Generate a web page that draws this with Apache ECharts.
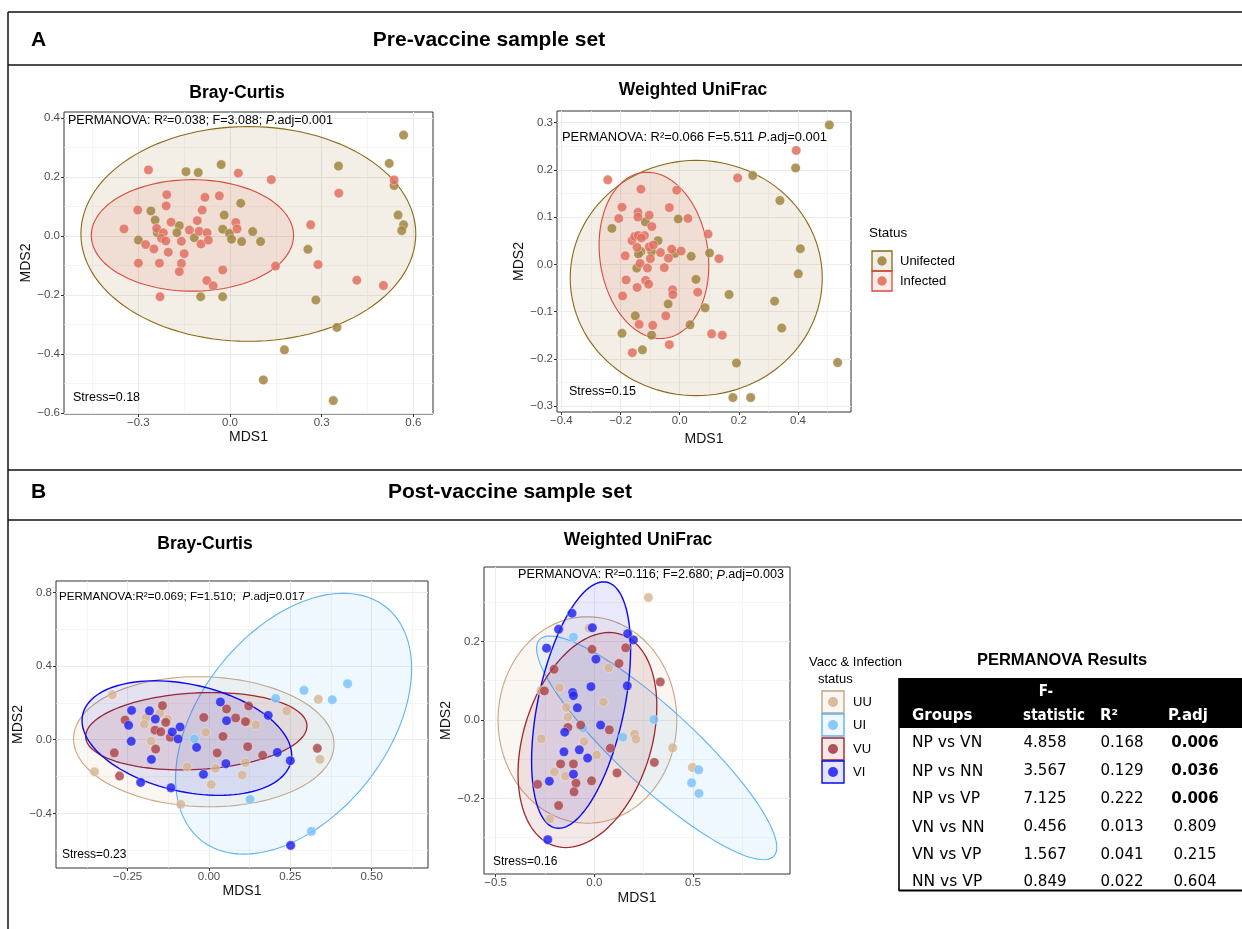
<!DOCTYPE html>
<html><head><meta charset="utf-8">
<script src="https://cdn.jsdelivr.net/npm/echarts@6/dist/echarts.min.js"></script>
<style>html,body{margin:0;padding:0;background:#fff}#c{width:1242px;height:929px}</style>
</head><body><div id="c"></div>
<script>
// ---------------- DATA ----------------
// Panel A-left: Pre-vaccine, Bray-Curtis  [MDS1, MDS2]
const preBC_unif = [[0.568,0.342],[0.521,0.246],[0.355,0.237],[-0.029,0.242],[-0.144,0.218],[-0.104,0.215],[0.537,0.171],[0.035,0.111],[-0.259,0.085],[-0.019,0.071],[-0.245,0.054],[0.550,0.071],[0.568,0.038],[0.562,0.018],[-0.166,0.035],[-0.238,0.011],[-0.174,0.011],[-0.117,-0.006],[-0.024,0.023],[-0.002,0.009],[0.005,-0.011],[0.038,-0.019],[0.074,0.015],[0.100,-0.019],[-0.300,-0.014],[0.255,-0.045],[-0.096,-0.206],[-0.024,-0.206],[0.281,-0.217],[0.350,-0.310],[0.178,-0.386],[0.109,-0.488],[0.338,-0.558]];
const preBC_inf = [[-0.267,0.224],[0.027,0.213],[0.135,0.191],[0.537,0.190],[0.356,0.145],[-0.207,0.140],[-0.082,0.131],[-0.035,0.136],[-0.209,0.102],[-0.302,0.088],[-0.091,0.088],[-0.107,0.052],[-0.193,0.047],[0.019,0.046],[0.023,0.024],[-0.347,0.024],[-0.240,0.026],[-0.218,0.011],[-0.133,0.020],[-0.101,0.016],[-0.075,0.011],[0.264,0.038],[-0.224,-0.008],[-0.210,-0.017],[-0.159,-0.018],[-0.095,-0.027],[-0.071,-0.014],[-0.276,-0.029],[-0.249,-0.044],[-0.202,-0.055],[-0.150,-0.060],[-0.300,-0.092],[-0.231,-0.092],[-0.159,-0.093],[-0.166,-0.121],[-0.024,-0.115],[0.149,-0.102],[0.288,-0.097],[0.415,-0.150],[0.502,-0.168],[-0.076,-0.151],[-0.055,-0.169],[-0.229,-0.206]];
// ellipses: [centre MDS1, centre MDS2, top-vector dx, top-vector dy, horizontal half-chord]
const preBC_ell_unif = [0.060,0.007,0,0.364,0.548];
const preBC_ell_inf  = [-0.123,0.002,0,0.189,0.331];

// Panel A-right: Pre-vaccine, Weighted UniFrac
const preWU_unif = [[0.506,0.295],[0.392,0.204],[0.247,0.188],[0.339,0.135],[-0.005,0.096],[-0.116,0.090],[-0.229,0.076],[-0.073,0.050],[0.408,0.033],[-0.131,0.027],[-0.095,0.027],[-0.139,0.022],[-0.016,0.023],[0.039,0.017],[0.101,0.024],[-0.145,-0.008],[0.401,-0.020],[0.055,-0.032],[0.167,-0.064],[0.321,-0.078],[-0.039,-0.084],[0.086,-0.092],[-0.150,-0.109],[0.035,-0.128],[0.345,-0.135],[-0.195,-0.146],[-0.095,-0.150],[-0.126,-0.181],[0.192,-0.209],[0.534,-0.208],[0.180,-0.282],[0.240,-0.282]];
const preWU_inf = [[0.394,0.241],[-0.243,0.179],[0.196,0.183],[-0.131,0.159],[-0.010,0.157],[-0.195,0.121],[-0.035,0.120],[-0.141,0.110],[-0.103,0.104],[-0.206,0.097],[-0.141,0.100],[0.028,0.097],[-0.094,0.080],[0.096,0.064],[-0.161,0.050],[-0.152,0.059],[-0.140,0.061],[-0.119,0.061],[-0.129,0.056],[-0.144,0.036],[-0.103,0.037],[-0.089,0.041],[-0.027,0.032],[0.005,0.028],[-0.065,0.025],[-0.184,0.018],[-0.038,0.013],[-0.099,0.012],[0.133,0.012],[-0.134,0.002],[-0.109,-0.008],[-0.052,-0.007],[-0.181,-0.033],[-0.115,-0.034],[-0.105,-0.042],[-0.144,-0.049],[-0.024,-0.054],[-0.023,-0.064],[0.061,-0.059],[-0.193,-0.067],[-0.047,-0.109],[-0.137,-0.127],[-0.091,-0.129],[0.108,-0.147],[0.144,-0.150],[-0.035,-0.170],[-0.160,-0.187]];
const preWU_ell_unif = [0.056,-0.029,0,0.249,0.426];
const preWU_ell_inf  = [-0.087,0.019,-0.0225,0.176,0.184];

// Panel B-left: Post-vaccine, Bray-Curtis
const postBC_UU = [[-0.297,0.244],[0.336,0.219],[0.239,0.157],[-0.194,0.119],[-0.151,0.143],[-0.128,0.112],[-0.199,0.083],[0.119,0.098],[0.144,0.081],[-0.010,0.040],[-0.178,-0.007],[0.341,-0.107],[0.112,-0.125],[-0.067,-0.147],[0.020,-0.156],[0.102,-0.192],[-0.352,-0.174],[0.007,-0.243],[-0.087,-0.351]];
const postBC_UI = [[0.426,0.304],[0.292,0.268],[0.379,0.217],[0.205,0.224],[-0.045,0.004],[0.126,-0.324],[0.315,-0.498]];
const postBC_VU = [[-0.143,0.185],[0.054,0.167],[0.122,0.183],[-0.258,0.107],[-0.133,0.094],[-0.016,0.121],[0.082,0.118],[0.112,0.098],[-0.166,0.052],[-0.148,0.043],[-0.119,0.013],[0.043,0.018],[0.119,-0.038],[-0.164,-0.051],[-0.291,-0.071],[0.025,-0.072],[0.165,-0.085],[0.333,-0.047],[-0.275,-0.197]];
const postBC_VI = [[0.035,0.205],[-0.238,0.159],[-0.183,0.157],[-0.165,0.112],[-0.247,0.078],[-0.089,0.069],[-0.113,0.042],[0.054,0.103],[0.182,0.132],[-0.095,0.004],[-0.239,-0.009],[-0.038,-0.042],[0.210,-0.069],[-0.177,-0.107],[0.052,-0.130],[0.250,-0.114],[-0.017,-0.188],[-0.210,-0.232],[-0.117,-0.261],[0.251,-0.574]];
const postBC_ell_UU = [-0.016,-0.011,-0.0175,0.353,0.400];
const postBC_ell_UI = [0.260,0.087,0.153,0.708,0.329];
const postBC_ell_VU = [-0.039,0.046,0.046,0.210,0.337];
const postBC_ell_VI = [-0.068,0.009,-0.098,0.311,0.307];

// Panel B-right: Post-vaccine, Weighted UniFrac
const postWU_UU = [[0.274,0.312],[-0.027,0.234],[0.073,0.133],[-0.177,0.082],[0.046,0.046],[-0.142,0.032],[-0.134,0.007],[0.204,-0.036],[0.211,-0.049],[-0.269,-0.048],[-0.052,-0.055],[0.012,-0.089],[0.397,-0.071],[0.497,-0.121],[-0.203,-0.132],[-0.147,-0.143],[-0.225,-0.252],[-0.270,0.075]];
const postWU_UI = [[-0.106,0.211],[0.302,0.001],[-0.056,-0.021],[0.144,-0.044],[0.529,-0.127],[0.493,-0.160],[0.530,-0.187]];
const postWU_VU = [[-0.012,0.180],[0.159,0.184],[-0.204,0.129],[0.125,0.144],[0.334,0.097],[-0.253,0.074],[-0.134,-0.019],[-0.069,-0.013],[0.076,-0.025],[0.081,-0.072],[-0.171,-0.112],[-0.106,-0.112],[0.304,-0.108],[0.115,-0.135],[-0.287,-0.164],[-0.093,-0.161],[-0.103,-0.183],[-0.014,-0.155],[-0.181,-0.218]];
const postWU_VI = [[-0.113,0.272],[-0.181,0.231],[-0.010,0.235],[-0.242,0.183],[0.008,0.155],[0.169,0.220],[0.198,0.204],[-0.017,0.085],[0.167,0.087],[-0.110,0.070],[-0.106,0.062],[-0.086,0.031],[0.032,-0.013],[-0.150,-0.031],[-0.076,-0.076],[-0.154,-0.081],[-0.034,-0.097],[-0.106,-0.138],[-0.228,-0.156],[-0.236,-0.305]];
const postWU_ell_UU = [-0.035,0.000,0,0.263,0.453];
const postWU_ell_UI = [0.316,-0.071,-0.541,0.285,0.279];
const postWU_ell_VU = [-0.035,-0.051,0.110,0.274,0.334];
const postWU_ell_VI = [-0.067,0.038,0.114,0.314,0.2235];

// Tick values
const preBC_xTicks = [-0.3,0,0.3,0.6],  preBC_xMinor = [-0.45,-0.15,0.15,0.45];
const preBC_yTicks = [-0.6,-0.4,-0.2,0,0.2,0.4], preBC_yMinor = [-0.5,-0.3,-0.1,0.1,0.3];
const preWU_xTicks = [-0.4,-0.2,0,0.2,0.4], preWU_xMinor = [-0.3,-0.1,0.1,0.3,0.5];
const preWU_yTicks = [-0.3,-0.2,-0.1,0,0.1,0.2,0.3], preWU_yMinor = [-0.25,-0.15,-0.05,0.05,0.15,0.25];
const postBC_xTicks = [-0.25,0,0.25,0.5], postBC_xMinor = [-0.375,-0.125,0.125,0.375,0.625];
const postBC_yTicks = [-0.4,0,0.4,0.8], postBC_yMinor = [-0.6,-0.2,0.2,0.6];
const postWU_xTicks = [-0.5,0,0.5], postWU_xMinor = [-0.25,0.25,0.75];
const postWU_yTicks = [-0.2,0,0.2], postWU_yMinor = [-0.3,-0.1,0.1,0.3];

// Table
const tblGroups = ['NP vs VN','NP vs NN','NP vs VP','VN vs NN','VN vs VP','NN vs VP'];
const tblF = ['4.858','3.567','7.125','0.456','1.567','0.849'];
const tblR2 = ['0.168','0.129','0.222','0.013','0.041','0.022'];
const tblP = ['0.006','0.036','0.006','0.809','0.215','0.604'];
const tblPBold = [true,true,true,false,false,false];

// ---------------- STYLE ----------------
const C = {
  unif:'#A1853F', unifLine:'#8B6914',
  inf:'#E0705F', infLine:'#D84B3C',
  UU:'#D7B491', UULine:'#C9A47F',
  UI:'#7DC3FA', UILine:'#5EB4F5',
  VU:'#AA4146', VULine:'#A0262B',
  VI:'#2828F0', VILine:'#0A0AF0'
};
const SANS = 'Liberation Sans, Arial, sans-serif';
const fmt = d => v => (v < 0 ? '\u2212' : '') + Math.abs(v).toFixed(d);

function rgba(hex, a){
  const n = parseInt(hex.slice(1),16);
  return `rgba(${n>>16},${(n>>8)&255},${n&255},${a})`;
}

const grids=[], xAxes=[], yAxes=[], series=[];

function panel(cfg){
  const gi = grids.length;
  grids.push({left:cfg.box[0], top:cfg.box[1], width:cfg.box[2], height:cfg.box[3],
    show:true, borderColor:'#333', borderWidth:1, backgroundColor:'#fff', containLabel:false});
  const xi = xAxes.length, yi = yAxes.length;
  const major = (ticks, dec, name, gap, isY) => ({
    type:'value', gridIndex:gi, min:isY?cfg.ylim[0]:cfg.xlim[0], max:isY?cfg.ylim[1]:cfg.xlim[1],
    name:name, nameLocation:'middle', nameGap:gap,
    nameTextStyle:{fontFamily:SANS, fontSize:14, color:'#111'},
    axisLine:{show:false, onZero:false},
    axisTick:{show:true, customValues:ticks, length:3, lineStyle:{color:'#333', width:1}},
    axisLabel:{show:true, customValues:ticks, formatter:fmt(dec), color:'#4D4D4D', fontSize:11.5, fontFamily:SANS, margin:isY?4:3},
    splitLine:{show:true, lineStyle:{color:'#EBEBEB', width:1.1}}
  });
  const minor = (ticks, isY) => ({
    type:'value', gridIndex:gi, min:isY?cfg.ylim[0]:cfg.xlim[0], max:isY?cfg.ylim[1]:cfg.xlim[1],
    axisLine:{show:false, onZero:false},
    axisTick:{show:false, customValues:ticks},
    axisLabel:{show:false, customValues:ticks},
    splitLine:{show:true, lineStyle:{color:'#F0F0F0', width:0.7}}
  });
  xAxes.push(major(cfg.xTicks, cfg.xDec, 'MDS1', cfg.xGap, false));
  xAxes.push(minor(cfg.xMinor, false));
  yAxes.push(major(cfg.yTicks, cfg.yDec, 'MDS2', cfg.yGap, true));
  yAxes.push(minor(cfg.yMinor, true));

  cfg.ellipses.forEach(e => {
    series.push({
      type:'custom', xAxisIndex:xi, yAxisIndex:yi, z:2, silent:true,
      data:[e.p],
      renderItem:(params, api) => {
        const cx=api.value(0), cy=api.value(1), px=api.value(2), py=api.value(3), qx=api.value(4);
        const pts=[];
        for(let k=0;k<120;k++){
          const t=2*Math.PI*k/120;
          pts.push(api.coord([cx+px*Math.cos(t)+qx*Math.sin(t), cy+py*Math.cos(t)]));
        }
        return {type:'polygon', shape:{points:pts},
          style:{fill:rgba(e.fill, e.alpha), stroke:e.line, lineWidth:e.lw||1.1}};
      }
    });
  });
  cfg.groups.forEach(g => {
    series.push({
      type:'scatter', xAxisIndex:xi, yAxisIndex:yi, z:3, silent:true,
      data:g.data, symbolSize:cfg.sym,
      itemStyle:{color:g.color, opacity:g.op||0.85, borderColor:'rgba(255,255,255,0.55)', borderWidth:0.8}
    });
  });
}

panel({box:[64,112,369,302], xlim:[-0.5433,0.6643], ylim:[-0.6034,0.4203],
  xTicks:preBC_xTicks, xMinor:preBC_xMinor, yTicks:preBC_yTicks, yMinor:preBC_yMinor, xDec:1, yDec:1,
  xGap:16, yGap:27, sym:9.5,
  ellipses:[{p:preBC_ell_unif, fill:C.unif, alpha:0.13, line:C.unifLine},{p:preBC_ell_inf, fill:C.inf, alpha:0.13, line:C.infLine}],
  groups:[{data:preBC_unif, color:C.unif},{data:preBC_inf, color:C.inf}]});

panel({box:[557,111,294,301], xlim:[-0.4147,0.5792], ylim:[-0.3126,0.3246],
  xTicks:preWU_xTicks, xMinor:preWU_xMinor, yTicks:preWU_yTicks, yMinor:preWU_yMinor, xDec:1, yDec:1,
  xGap:20, yGap:30, sym:9.5,
  ellipses:[{p:preWU_ell_unif, fill:C.unif, alpha:0.13, line:C.unifLine},{p:preWU_ell_inf, fill:C.inf, alpha:0.13, line:C.infLine}],
  groups:[{data:preWU_unif, color:C.unif},{data:preWU_inf, color:C.inf}]});

panel({box:[56,581,372,287], xlim:[-0.4703,0.6732], ylim:[-0.6965,0.8616],
  xTicks:postBC_xTicks, xMinor:postBC_xMinor, yTicks:postBC_yTicks, yMinor:postBC_yMinor, xDec:2, yDec:1,
  xGap:16, yGap:25, sym:9.5,
  ellipses:[{p:postBC_ell_UU, fill:C.UU, alpha:0.12, line:C.UULine},{p:postBC_ell_UI, fill:C.UI, alpha:0.12, line:C.UILine},
            {p:postBC_ell_VU, fill:C.VU, alpha:0.12, line:C.VULine, lw:1.3},{p:postBC_ell_VI, fill:C.VI, alpha:0.1, line:C.VILine, lw:1.4}],
  groups:[{data:postBC_UU, color:C.UU, op:0.8},{data:postBC_UI, color:C.UI, op:0.85},{data:postBC_VU, color:C.VU, op:0.8},{data:postBC_VI, color:C.VI, op:0.85}]});

panel({box:[484,567,306,307], xlim:[-0.5591,0.9916], ylim:[-0.3924,0.3898],
  xTicks:postWU_xTicks, xMinor:postWU_xMinor, yTicks:postWU_yTicks, yMinor:postWU_yMinor, xDec:1, yDec:1,
  xGap:17, yGap:24, sym:9.5,
  ellipses:[{p:postWU_ell_UU, fill:C.UU, alpha:0.12, line:C.UULine},{p:postWU_ell_UI, fill:C.UI, alpha:0.12, line:C.UILine},
            {p:postWU_ell_VU, fill:C.VU, alpha:0.12, line:C.VULine, lw:1.3},{p:postWU_ell_VI, fill:C.VI, alpha:0.1, line:C.VILine, lw:1.4}],
  groups:[{data:postWU_UU, color:C.UU, op:0.8},{data:postWU_UI, color:C.UI, op:0.85},{data:postWU_VU, color:C.VU, op:0.8},{data:postWU_VI, color:C.VI, op:0.85}]});

// ---------------- GRAPHIC (frame, titles, annotations, legends, table) ----------------
const G = [];
const line = (x1,y1,x2,y2,w,c) => G.push({type:'line', shape:{x1,y1,x2,y2}, style:{stroke:c||'#111', lineWidth:w||1.5}, z:10});
const text = (x,y,t,o) => G.push({type:'text', x, y, z:10, style:Object.assign({text:t, fill:'#000', font:`13px ${SANS}`, align:'left', verticalAlign:'middle'}, o||{})});

line(8,12,1242,12); line(8,65,1242,65); line(8,470,1242,470); line(8,520,1242,520); line(8,12,8,929);
text(31,40,'A',{font:`bold 21px ${SANS}`});
text(489,40,'Pre-vaccine sample set',{font:`bold 21px ${SANS}`, align:'center'});
text(31,492,'B',{font:`bold 21px ${SANS}`});
text(510,492,'Post-vaccine sample set',{font:`bold 21px ${SANS}`, align:'center'});

text(237,93,'Bray-Curtis',{font:`bold 17.5px ${SANS}`, align:'center'});
text(693,90,'Weighted UniFrac',{font:`bold 17.5px ${SANS}`, align:'center'});
text(205,544,'Bray-Curtis',{font:`bold 17.5px ${SANS}`, align:'center'});
text(638,540,'Weighted UniFrac',{font:`bold 17.5px ${SANS}`, align:'center'});

function perm(x,y,a,b,fs,align){
  G.push({type:'text', x, y, z:11, style:{text:`{n|${a}}{i|P}{n|${b}}`, align:align||'left', verticalAlign:'middle',
    rich:{n:{fontSize:fs, fontFamily:SANS, fill:'#000'}, i:{fontSize:fs, fontFamily:SANS, fontStyle:'italic', fill:'#000'}}}});
}
perm(68,121,'PERMANOVA: R\u00B2=0.038; F=3.088; ','.adj=0.001',12.5);
text(73,398,'Stress=0.18',{font:`12.5px ${SANS}`});
perm(562,137,'PERMANOVA: R\u00B2=0.066 F=5.511 ','.adj=0.001',12.9);
text(569,392,'Stress=0.15',{font:`12.5px ${SANS}`});
perm(59,597,'PERMANOVA:R\u00B2=0.069; F=1.510;  ','.adj=0.017',11.6);
text(62,855,'Stress=0.23',{font:`12px ${SANS}`});
perm(784,575,'PERMANOVA: R\u00B2=0.116; F=2.680; ','.adj=0.003',12.6,'right');
text(493,862,'Stress=0.16',{font:`12px ${SANS}`});

// Legend A
text(869,233,'Status',{font:`13.5px ${SANS}`});
[[ 'Unifected', C.unif, C.unifLine, 251 ], [ 'Infected', C.inf, C.infLine, 271 ]].forEach(([lab,col,lc,y0]) => {
  G.push({type:'rect', z:10, shape:{x:872,y:y0,width:20,height:20}, style:{fill:rgba(col,0.13), stroke:lc, lineWidth:1.3}});
  G.push({type:'circle', z:11, shape:{cx:882,cy:y0+10,r:4.7}, style:{fill:col, opacity:0.9}});
  text(900,y0+10,lab,{font:`13px ${SANS}`});
});
// Legend B
text(809,662,'Vacc & Infection',{font:`13px ${SANS}`});
text(818,679,'status',{font:`13px ${SANS}`});
[['UU',C.UU,C.UULine,691],['UI',C.UI,C.UILine,714],['VU',C.VU,C.VULine,738],['VI',C.VI,C.VILine,761]].forEach(([lab,col,lc,y0]) => {
  G.push({type:'rect', z:10, shape:{x:822,y:y0,width:22,height:22}, style:{fill:rgba(col,0.12), stroke:lc, lineWidth:1.4}});
  G.push({type:'circle', z:11, shape:{cx:833,cy:y0+11,r:5}, style:{fill:col, opacity:0.9}});
  text(853,y0+11,lab,{font:`13px ${SANS}`});
});

// Table
const TF = 'DejaVu Sans, Verdana, sans-serif';
const TFC = 'DejaVu Sans Condensed, DejaVu Sans, sans-serif';
text(1062,660,'PERMANOVA Results',{font:`bold 16.5px ${SANS}`, align:'center'});
G.push({type:'rect', z:10, shape:{x:899,y:678,width:343,height:50}, style:{fill:'#000'}});
text(912,716,'Groups',{font:`bold 15px ${TF}`, fill:'#fff'});
text(1046,692,'F-',{font:`bold 15px ${TFC}`, fill:'#fff', align:'center'});
text(1054,716,'statistic',{font:`bold 15px ${TFC}`, fill:'#fff', align:'center'});
text(1100,716,'R\u00B2',{font:`bold 15px ${TF}`, fill:'#fff'});
text(1168,716,'P.adj',{font:`bold 15px ${TF}`, fill:'#fff'});
const rowY = [743,771.5,799,827.5,855,882];
tblGroups.forEach((g,i) => {
  text(912,rowY[i],g,{font:`15.5px ${TF}`, fill:'#000'});
  text(1045,rowY[i],tblF[i],{font:`15px ${TF}`, fill:'#000', align:'center'});
  text(1122,rowY[i],tblR2[i],{font:`15px ${TF}`, fill:'#000', align:'center'});
  text(1195,rowY[i],tblP[i],{font:`${tblPBold[i]?'bold ':''}15px ${TF}`, fill:'#000', align:'center'});
});
line(899,678,899,891,1.6,'#000'); line(899,890.5,1242,890.5,1.8,'#000');

const chart = echarts.init(document.getElementById('c'), null, {renderer:'canvas'});
chart.setOption({
  animation:false, backgroundColor:'#fff',
  grid:grids, xAxis:xAxes, yAxis:yAxes, series:series, graphic:{elements:G}
});
</script></body></html>
